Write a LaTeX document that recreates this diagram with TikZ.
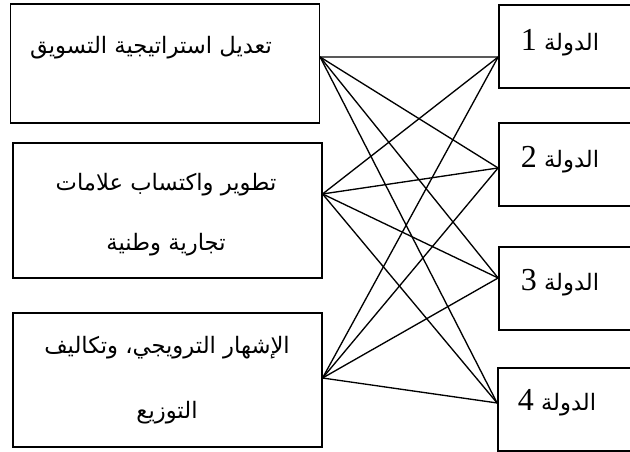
\documentclass[tikz,border=0pt]{standalone}
\usepackage{fontspec}
\usepackage{tikz}
\TeXXeTstate=1
\newfontfamily\arabicfont[Script=Arabic]{DejaVu Sans}
\newfontfamily\numfont{Liberation Serif}

\begin{document}
\begin{tikzpicture}[x=0.75pt, y=-0.75pt,
        box/.style={draw, line width=1.1pt, minimum width=231.5pt, minimum height=#1, inner sep=0pt},
        cbox/.style={draw, line width=1.1pt, minimum width=106pt, minimum height=62.25pt, inner sep=0pt},
        txt/.style={font=\arabicfont\fontsize{17}{#1}\selectfont, align=center},
        ctxt/.style={font=\arabicfont\fontsize{17}{18}\selectfont}]
        \useasboundingbox (0,0) rectangle (630,452);

        % Nodes
        \node[box=89.25pt] (s1) at (165, 63.5) {};
        \node[box=101.25pt] (s2) at (167.5, 210.5) {};
        \node[box=100.5pt] (s3) at (167.5, 380) {};

        \node[cbox] (d1) at (569.5, 46.5) {};
        \node[cbox] (d2) at (569.5, 164.5) {};
        \node[cbox] (d3) at (569.5, 288.5) {};
        \node[cbox] (d4) at (568.5, 409.5) {};

        \node[txt=18pt] (t1) at (151, 48) {\beginR تعديل استراتيجية التسويق\endR};
        \node[txt=45pt] (t2) at (166, 215) {\beginR تطوير واكتساب علامات\endR\\\beginR تجارية وطنية\endR};
        \node[txt=48.75pt] (t3) at (167, 380.5) {\beginR الإشهار الترويجي، وتكاليف\endR\\\beginR التوزيع\endR};

        \node[ctxt] (n1) at (560, 43) {\beginR الدولة {\numfont\fontsize{24}{24}\selectfont 1}\endR};
        \node[ctxt] (n2) at (560, 160) {\beginR الدولة {\numfont\fontsize{24}{24}\selectfont 2}\endR};
        \node[ctxt] (n3) at (560, 283) {\beginR الدولة {\numfont\fontsize{24}{24}\selectfont 3}\endR};
        \node[ctxt] (n4) at (557, 403) {\beginR الدولة {\numfont\fontsize{24}{24}\selectfont 4}\endR};

        % Ends of the edges on the box sides
        \coordinate (a1) at ([yshift=4.9pt]s1.east);
        \coordinate (a2) at ([yshift=12.4pt]s2.east);
        \coordinate (a3) at ([yshift=1.5pt]s3.east);
        \coordinate (b1) at ([yshift=-7.9pt]d1.west);
        \coordinate (b2) at ([yshift=-2.6pt]d2.west);
        \coordinate (b3) at ([yshift=7.9pt]d3.west);
        \coordinate (b4) at ([yshift=4.9pt]d4.west);

        % Edges
        \draw[line width=1pt] (a1) -- (b1);
        \draw[line width=1pt] (a1) -- (b2);
        \draw[line width=1pt] (a1) -- (b3);
        \draw[line width=1pt] (a1) -- (b4);
        \draw[line width=1pt] (a2) -- (b1);
        \draw[line width=1pt] (a2) -- (b2);
        \draw[line width=1pt] (a2) -- (b3);
        \draw[line width=1pt] (a2) -- (b4);
        \draw[line width=1pt] (a3) -- (b1);
        \draw[line width=1pt] (a3) -- (b2);
        \draw[line width=1pt] (a3) -- (b3);
        \draw[line width=1pt] (a3) -- (b4);
\end{tikzpicture}
\end{document}
